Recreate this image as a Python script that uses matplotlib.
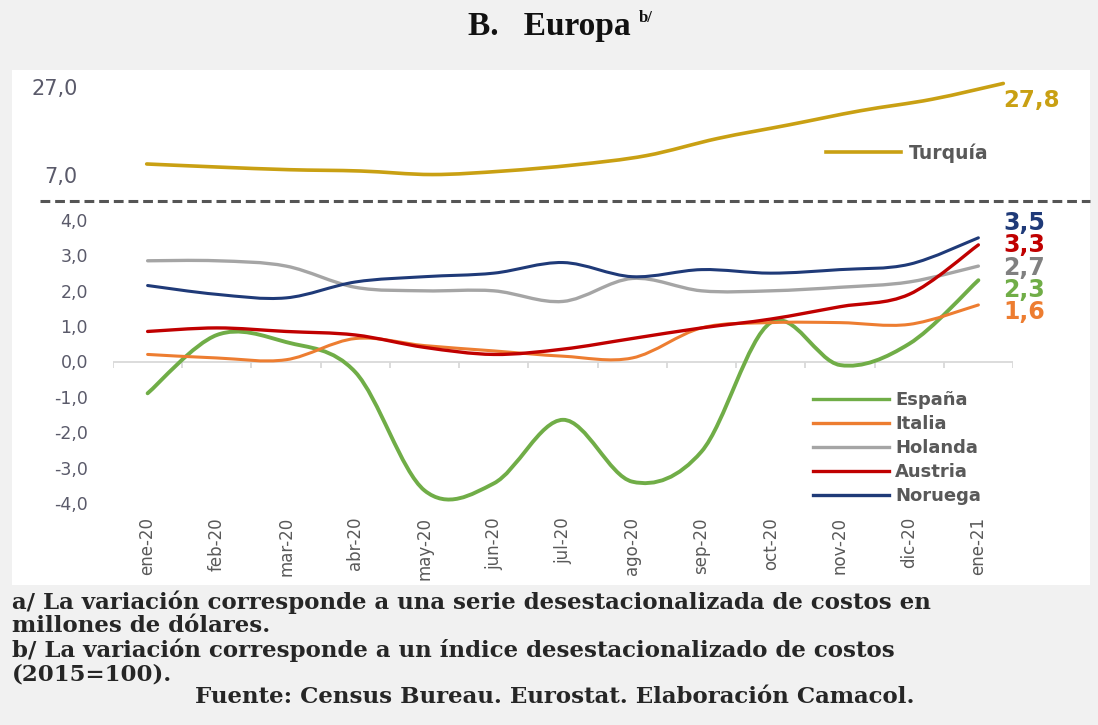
import numpy as np
import matplotlib
matplotlib.use("Agg")
import matplotlib.pyplot as plt
from matplotlib.path import Path
from matplotlib.patches import PathPatch, Rectangle
from matplotlib.lines import Line2D

months = ["ene-20", "feb-20", "mar-20", "abr-20", "may-20", "jun-20", "jul-20",
          "ago-20", "sep-20", "oct-20", "nov-20", "dic-20", "ene-21"]

turquia = [9.5, 8.8, 8.2, 7.9, 7.1, 7.9, 9.3, 11.4, 15.3, 18.4, 21.6, 24.2, 27.8]
espana = [-0.9, 0.75, 0.55, -0.3, -3.65, -3.45, -1.65, -3.4, -2.55, 1.1, -0.1, 0.5, 2.3]
italia = [0.2, 0.1, 0.05, 0.65, 0.45, 0.3, 0.15, 0.1, 0.95, 1.1, 1.1, 1.05, 1.6]
holanda = [2.85, 2.85, 2.7, 2.1, 2.0, 2.0, 1.7, 2.35, 2.0, 2.0, 2.1, 2.25, 2.7]
austria = [0.85, 0.95, 0.85, 0.75, 0.4, 0.2, 0.35, 0.65, 0.95, 1.2, 1.55, 1.9, 3.3]
noruega = [2.15, 1.9, 1.8, 2.25, 2.4, 2.5, 2.8, 2.4, 2.6, 2.5, 2.6, 2.75, 3.5]

top_ticks = [7.0, 27.0]
bottom_ticks = [4.0, 3.0, 2.0, 1.0, 0.0, -1.0, -2.0, -3.0, -4.0]

W, H = 1098, 725
fig = plt.figure(figsize=(W / 100, H / 100), dpi=100)
fig.patch.set_facecolor("#F1F1F1")

# white panel
fig.add_artist(Rectangle((12 / W, 1 - 585 / H), (1090 - 12) / W, (585 - 70) / H,
                         transform=fig.transFigure, facecolor="white",
                         edgecolor="none", zorder=0))


def smooth_patch(ax, xs, ys, color, lw, z=3):
    P = np.column_stack([xs, ys]).astype(float)
    n = len(P)
    verts = [tuple(P[0])]
    codes = [Path.MOVETO]
    for i in range(n - 1):
        p0 = P[i - 1] if i > 0 else P[i]
        p3 = P[i + 2] if i + 2 < n else P[i + 1]
        c1 = P[i] + (P[i + 1] - p0) / 6.0
        c2 = P[i + 1] - (p3 - P[i]) / 6.0
        verts += [tuple(c1), tuple(c2), tuple(P[i + 1])]
        codes += [Path.CURVE4] * 3
    patch = PathPatch(Path(verts, codes), fill=False, edgecolor=color, lw=lw,
                      capstyle="round", joinstyle="round", zorder=z)
    ax.add_patch(patch)


def style_axis(ax):
    for s in ax.spines.values():
        s.set_visible(False)
    ax.set_facecolor("none")


label_color = "#595959"
tick_color = "#5A5A6A"

# ---------- top axis: Turquía ----------
axT = fig.add_axes([111 / W, 1 - 198 / H, 928 / W, 126 / H])
style_axis(axT)
x = np.arange(len(months))
gold = "#C9A013"
smooth_patch(axT, x, turquia, gold, 2.6)
axT.set_xlim(-0.5, len(months) - 0.5)
axT.set_ylim(1.77, 30.4)
axT.set_xticks([])
axT.set_yticks(top_ticks)
axT.set_yticklabels([f"{v:.1f}".replace(".", ",") for v in top_ticks])
axT.tick_params(axis="y", length=0, pad=24, labelsize=15, labelcolor=tick_color)
axT.annotate(f"{turquia[-1]:.1f}".replace(".", ","), xy=(x[-1], turquia[-1]),
             xytext=(0, -12), textcoords="offset points", ha="left", va="center",
             fontsize=16.5, fontweight="bold", color=gold)
legT = axT.legend(handles=[Line2D([], [], color=gold, lw=2.6)], labels=["Turquía"],
                  loc="center left", bbox_to_anchor=(817 / W, 1 - 153 / H),
                  bbox_transform=fig.transFigure, frameon=False,
                  handlelength=4.0, handletextpad=0.4, borderpad=0,
                  prop={"size": 13.5, "weight": "bold"})
for t in legT.get_texts():
    t.set_color(label_color)

# dashed separator
fig.add_artist(Line2D([40 / W, 1090 / W], [1 - 201 / H, 1 - 201 / H],
                      transform=fig.transFigure, color="#555555", lw=2.2,
                      linestyle=(0, (3.2, 1.6)), zorder=5))

# ---------- bottom axis ----------
axB = fig.add_axes([113 / W, 1 - 517 / H, 900 / W, 311 / H])
style_axis(axB)
axB.set_xlim(-0.5, len(months) - 0.5)
axB.set_ylim(-4.4, 4.4)
axB.axhline(0, color="#D9D9D9", lw=1.3, zorder=1)
bounds = np.arange(len(months) + 1) - 0.5
axB.vlines(bounds, -0.17, 0, color="#D9D9D9", lw=1.3, zorder=1)

series = [
    ("España", espana, "#70AD47", 2.8),
    ("Italia", italia, "#ED7D31", 2.2),
    ("Holanda", holanda, "#A5A5A5", 2.4),
    ("Austria", austria, "#C00000", 2.4),
    ("Noruega", noruega, "#1F3A78", 2.2),
]
for i, (name, vals, col, lw) in enumerate(series):
    smooth_patch(axB, x, vals, col, lw, z=3 + i)

axB.set_yticks(bottom_ticks)
axB.set_yticklabels([f"{v:.1f}".replace(".", ",") for v in bottom_ticks])
axB.tick_params(axis="y", length=0, pad=18, labelsize=12.5, labelcolor=tick_color)
axB.set_xticks(x)
axB.set_xticklabels(months, rotation=90, fontsize=12, color=label_color)
axB.tick_params(axis="x", length=0, pad=0)

# end labels
end_labels = [
    (noruega, "#1F3A78", 223),
    (austria, "#C00000", 245),
    (holanda, "#808080", 268),
    (espana, "#70AD47", 290),
    (italia, "#ED7D31", 312),
]
for vals, col, ypix in end_labels:
    fig.text(1003 / W, 1 - ypix / H, f"{vals[-1]:.1f}".replace(".", ","),
             ha="left", va="center", fontsize=17, fontweight="bold", color=col)

handles = [Line2D([], [], color=c, lw=2.4) for _, _, c, _ in series]
legB = axB.legend(handles=handles, labels=[s[0] for s in series],
                  loc="upper left", bbox_to_anchor=(804 / W, 1 - 382 / H),
                  bbox_transform=fig.transFigure, frameon=False,
                  handlelength=4.2, handletextpad=0.35, borderpad=0,
                  labelspacing=0.33, prop={"size": 13, "weight": "bold"})
for t in legB.get_texts():
    t.set_color(label_color)

# title
title = fig.text(0.5, 1 - 27 / H, "B.   Europa", ha="center", va="center",
                 fontsize=24, fontweight="bold", family="Liberation Serif",
                 color="#111111")
fig.canvas.draw()
bb = title.get_window_extent()
fig.text((bb.x1 + 8) / W, 1 - 18 / H, "b/", ha="left", va="center",
         fontsize=12, fontweight="bold", family="Liberation Serif", color="#111111")

# footnotes
notes = [
    "a/ La variación corresponde a una serie desestacionalizada de costos en",
    "millones de dólares.",
    "b/ La variación corresponde a un índice desestacionalizado de costos",
    "(2015=100).",
]
for i, t in enumerate(notes):
    fig.text(12 / W, 1 - (602 + 24 * i) / H, t, ha="left", va="center",
             fontsize=16.5, fontweight="bold", family="DejaVu Serif", color="#262626")
fig.text(0.505, 1 - 697 / H, "Fuente: Census Bureau. Eurostat. Elaboración Camacol.",
         ha="center", va="center", fontsize=16.5, fontweight="bold",
         family="DejaVu Serif", color="#262626")

fig.savefig("out.png", dpi=100, facecolor=fig.get_facecolor())
